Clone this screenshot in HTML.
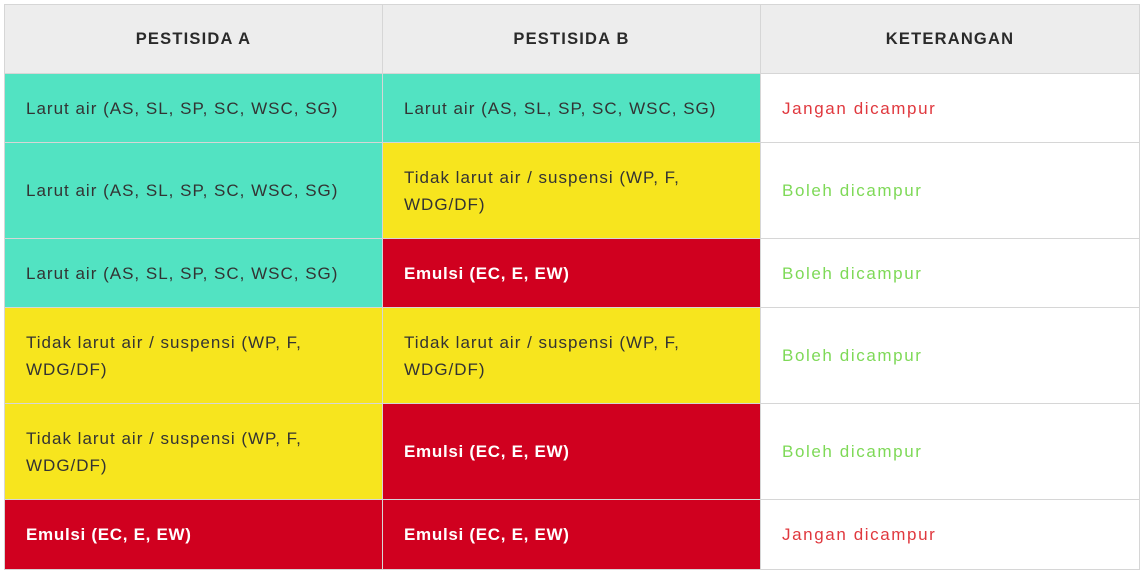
<!DOCTYPE html>
<html><head><meta charset="utf-8"><style>
body{margin:0;background:#fff;width:1143px;height:574px;overflow:hidden;font-family:"Liberation Sans",sans-serif;}
table{position:absolute;left:4px;top:4px;border-collapse:collapse;table-layout:fixed;width:1136px;}
td,th{border:1px solid #d6d6d6;padding:0 40px 0 21px;font-size:17px;letter-spacing:1px;color:#333;line-height:27px;text-align:left;vertical-align:middle;}
th{background:#ededed;text-align:center;font-weight:bold;font-size:16.5px;letter-spacing:1.2px;color:#2a2a2a;height:68px;padding:0;}
.g{background:#52e3c2;}
.y{background:#f7e51e;}
.r{background:#d0001f;color:#fff;font-weight:bold;letter-spacing:0.7px;}
.w{background:#fff;letter-spacing:1.6px;}
.no{color:#e0383e;}
.ok{color:#7ed957;}
.ln{position:absolute;left:4px;width:378px;height:1px;background:#d6d6d6;top:403px;}
</style></head><body>
<table>
<colgroup><col style="width:378px"><col style="width:378px"><col style="width:379px"></colgroup>
<tr><th>PESTISIDA A</th><th>PESTISIDA B</th><th>KETERANGAN</th></tr>
<tr style="height:69px"><td class="g">Larut air (AS, SL, SP, SC, WSC, SG)</td><td class="g">Larut air (AS, SL, SP, SC, WSC, SG)</td><td class="w no">Jangan dicampur</td></tr>
<tr style="height:96px"><td class="g">Larut air (AS, SL, SP, SC, WSC, SG)</td><td class="y">Tidak larut air / suspensi (WP, F, WDG/DF)</td><td class="w ok">Boleh dicampur</td></tr>
<tr style="height:69px"><td class="g">Larut air (AS, SL, SP, SC, WSC, SG)</td><td class="r">Emulsi (EC, E, EW)</td><td class="w ok">Boleh dicampur</td></tr>
<tr style="height:96px"><td class="y">Tidak larut air / suspensi (WP, F, WDG/DF)</td><td class="y">Tidak larut air / suspensi (WP, F, WDG/DF)</td><td class="w ok">Boleh dicampur</td></tr>
<tr style="height:96px"><td class="y">Tidak larut air / suspensi (WP, F, WDG/DF)</td><td class="r">Emulsi (EC, E, EW)</td><td class="w ok">Boleh dicampur</td></tr>
<tr style="height:70px"><td class="r">Emulsi (EC, E, EW)</td><td class="r">Emulsi (EC, E, EW)</td><td class="w no">Jangan dicampur</td></tr>
</table>
<div class="ln"></div>
</body></html>
